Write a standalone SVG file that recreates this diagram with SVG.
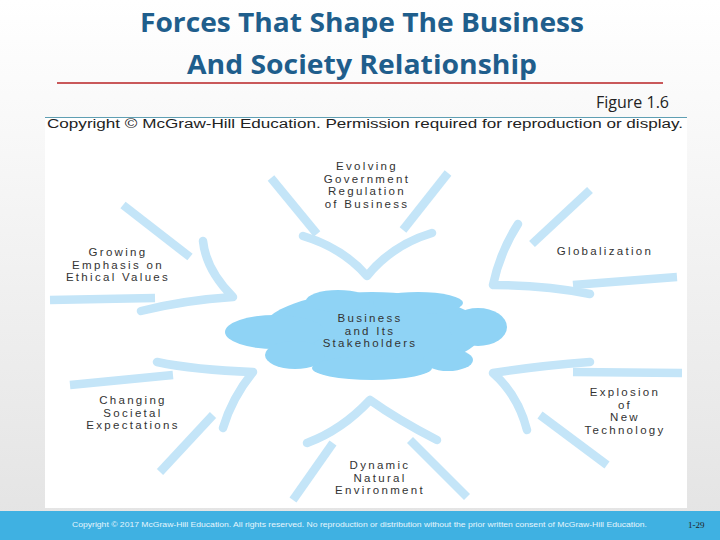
<svg xmlns="http://www.w3.org/2000/svg" width="720" height="540" viewBox="0 0 720 540">
<defs>
<linearGradient id="bg" x1="0" y1="0" x2="0" y2="1">
<stop offset="0" stop-color="#ffffff"/>
<stop offset="1" stop-color="#e3e3e3"/>
</linearGradient>
<style>
.title{font-family:"Open Sans","Liberation Sans",sans-serif;font-weight:bold;font-size:27px;fill:#1f5e8c;text-anchor:middle}
.fig{font-family:"Open Sans","Liberation Sans",sans-serif;font-size:16px;fill:#222;text-anchor:end}
.copy{font-family:"Liberation Sans",Arial,sans-serif;font-size:12.5px;fill:#222}
.lbl{font-family:"Liberation Sans",Arial,sans-serif;font-size:11.5px;letter-spacing:2.3px;fill:#333;text-anchor:middle}
.arm{fill:none;stroke:#c4e5f8;stroke-width:8.5;stroke-linecap:round;stroke-linejoin:round}
.tail{fill:none;stroke:#c4e5f8;stroke-width:8.5;stroke-linecap:butt}
.cloud{fill:#8fd3f5}
.foot{font-family:"Liberation Sans",Arial,sans-serif;font-size:7px;fill:#e6f6fd}
</style>
</defs>
<rect x="0" y="0" width="720" height="540" fill="url(#bg)"/>
<g id="title">
<text class="title" x="362" y="32" textLength="444" lengthAdjust="spacingAndGlyphs">Forces That Shape The Business</text>
<text class="title" x="362" y="74" textLength="350" lengthAdjust="spacingAndGlyphs">And Society Relationship</text>
<line x1="57" y1="83" x2="663" y2="83" stroke="#c9585a" stroke-width="2"/>
<text class="fig" x="669" y="108">Figure 1.6</text>
</g>
<rect x="45" y="117" width="642" height="391" fill="#ffffff"/>
<line x1="45" y1="117.5" x2="687" y2="117.5" stroke="#5f9fb3" stroke-width="1.2"/>
<text class="copy" x="47" y="128" textLength="636" lengthAdjust="spacingAndGlyphs">Copyright © McGraw-Hill Education. Permission required for reproduction or display.</text>

<g id="connectors">
<!-- top -->
<path class="tail" d="M271,178 L317,234"/>
<path class="tail" d="M448,173 L403,230"/>
<path class="arm" d="M303,236 Q343,248 367,276 Q392,245 432,233"/>
<!-- globalization -->
<path class="tail" d="M590,190 L532,244"/>
<path class="arm" d="M518,224 Q500,252 493,285 Q545,285 590,294"/>
<path class="tail" d="M573,285 L677,277"/>
<!-- ethical -->
<path class="tail" d="M123,205 L190,257"/>
<path class="arm" d="M203,241 Q206,270 233,297 Q185,300 141,311"/>
<path class="tail" d="M50,300 L155,298"/>
<!-- societal -->
<path class="arm" d="M157,362 Q195,370 253,372 Q232,398 223,428"/>
<path class="tail" d="M70,385 L173,375"/>
<path class="tail" d="M213,415 L160,472"/>
<!-- natural -->
<path class="arm" d="M307,443 Q342,430 370,400 Q398,420 437,440"/>
<path class="tail" d="M333,443 L293,500"/>
<path class="tail" d="M410,440 L467,497"/>
<!-- technology -->
<path class="arm" d="M590,362 Q537,366 493,373 Q518,395 527,430"/>
<path class="tail" d="M573,372 L682,373"/>
<path class="tail" d="M540,415 L607,465"/>
</g>

<g id="center">
<g class="cloud">
<ellipse cx="372" cy="331" rx="110" ry="39"/>
<ellipse cx="275" cy="332" rx="50" ry="17"/>
<ellipse cx="338" cy="301" rx="32" ry="11"/>
<ellipse cx="418" cy="303" rx="45" ry="11"/>
<ellipse cx="478" cy="327" rx="29" ry="19"/>
<ellipse cx="448" cy="360" rx="25" ry="11"/>
<ellipse cx="372" cy="368" rx="60" ry="12"/>
<ellipse cx="295" cy="355" rx="30" ry="14"/>
</g>
<text class="lbl" x="370" y="322">Business</text>
<text class="lbl" x="370" y="334.5">and Its</text>
<text class="lbl" x="370" y="347">Stakeholders</text>
</g>

<g id="government">
<text class="lbl" x="367" y="170">Evolving</text>
<text class="lbl" x="367" y="182.7">Government</text>
<text class="lbl" x="367" y="195.4">Regulation</text>
<text class="lbl" x="367" y="208">of Business</text>
</g>
<g id="ethical">
<text class="lbl" x="118" y="256">Growing</text>
<text class="lbl" x="118" y="268.5">Emphasis on</text>
<text class="lbl" x="118" y="281">Ethical Values</text>
</g>
<g id="globalization">
<text class="lbl" x="605" y="255">Globalization</text>
</g>
<g id="societal">
<text class="lbl" x="133" y="404">Changing</text>
<text class="lbl" x="133" y="416.5">Societal</text>
<text class="lbl" x="133" y="429">Expectations</text>
</g>
<g id="natural">
<text class="lbl" x="380" y="469">Dynamic</text>
<text class="lbl" x="380" y="481.5">Natural</text>
<text class="lbl" x="380" y="494">Environment</text>
</g>
<g id="technology">
<text class="lbl" x="625" y="396">Explosion</text>
<text class="lbl" x="625" y="408.7">of</text>
<text class="lbl" x="625" y="421.4">New</text>
<text class="lbl" x="625" y="434">Technology</text>
</g>

<g id="footer">
<rect x="0" y="511" width="720" height="29" fill="#3fb1e2"/>
<text class="foot" x="72" y="527" textLength="575" lengthAdjust="spacingAndGlyphs">Copyright © 2017 McGraw-Hill Education. All rights reserved. No reproduction or distribution without the prior written consent of McGraw-Hill Education.</text>
<text x="688" y="528" font-family="Liberation Serif, serif" font-size="9" fill="#222">1-29</text>
</g>
</svg>
